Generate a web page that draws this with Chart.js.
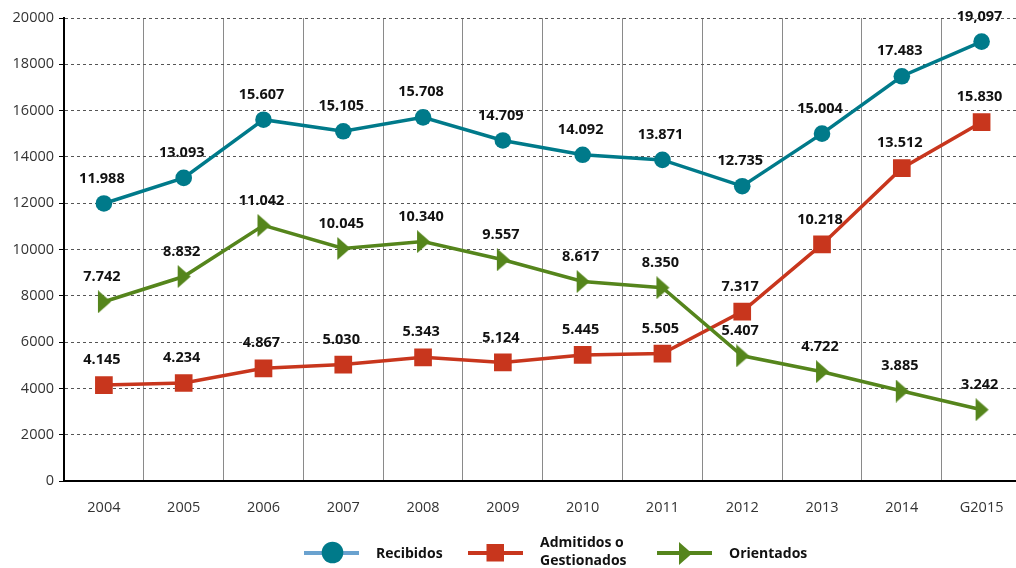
<!DOCTYPE html>
<html>
<head>
<meta charset="utf-8">
<script src="https://cdn.jsdelivr.net/npm/chart.js@4.4.1/dist/chart.umd.min.js"></script>
<style>
  html, body { margin: 0; padding: 0; background: #fff; overflow: hidden; }
  #wrap { position: relative; width: 1034px; height: 568px; }
</style>
</head>
<body>
<div id="wrap"><canvas id="chart"></canvas></div>
<script>
  years = ['2004', '2005', '2006', '2007', '2008', '2009', '2010', '2011', '2012', '2013', '2014', 'G2015']

  // values as plotted (G2015 marks sit a little lower than their labels)
  recibidos = [11988, 13093, 15607, 15105, 15708, 14709, 14092, 13871, 12735, 15004, 17483, 18980]
  admitidos = [4145, 4234, 4867, 5030, 5343, 5124, 5445, 5505, 7317, 10218, 13512, 15500]
  orientados = [7742, 8832, 11042, 10045, 10340, 9557, 8617, 8350, 5407, 4722, 3885, 3080]

  recibidosLabels = ['11.988', '13.093', '15.607', '15.105', '15.708', '14.709', '14.092', '13.871', '12.735', '15.004', '17.483', '19,097']
  admitidosLabels = ['4.145', '4.234', '4.867', '5.030', '5.343', '5.124', '5.445', '5.505', '7.317', '10.218', '13.512', '15.830']
  orientadosLabels = ['7.742', '8.832', '11.042', '10.045', '10.340', '9.557', '8.617', '8.350', '5.407', '4.722', '3.885', '3.242']

  yMax = 20000
  yStep = 2000

  teal = '#007a8a'
  red = '#c8361d'
  green = '#55851c'
  lightBlue = '#6aa2cf'

  Chart.defaults.font.family = "'Open Sans', sans-serif";

  // right-pointing arrow head used as point style
  function arrowHead(w, h) {
    const c = document.createElement('canvas');
    c.width = w + 3;
    c.height = h;
    const x = c.getContext('2d');
    x.fillStyle = green;
    x.beginPath();
    x.moveTo(2, 0);
    x.lineTo(2 + w, h / 2);
    x.lineTo(2, h);
    x.closePath();
    x.fill();
    return c;
  }

  const pointLabels = {
    id: 'pointLabels',
    afterDatasetsDraw: (chart) => {
      const { ctx } = chart;
      ctx.save();
      ctx.font = 'bold 14.5px "Open Sans"';
      ctx.fillStyle = '#111';
      ctx.textAlign = 'center';
      ctx.textBaseline = 'middle';
      chart.data.datasets.forEach((ds, di) => {
        chart.getDatasetMeta(di).data.forEach((pt, j) => {
          ctx.fillText(ds.valueLabels[j], pt.x - 2, pt.y - 25);
        });
      });
      ctx.restore();
    }
  };

  const bottomLegend = {
    id: 'bottomLegend',
    afterDraw: (chart) => {
      const { ctx } = chart;
      ctx.save();
      ctx.lineWidth = 4;
      // Recibidos
      ctx.strokeStyle = lightBlue;
      ctx.beginPath(); ctx.moveTo(304, 553); ctx.lineTo(359, 553); ctx.stroke();
      ctx.fillStyle = teal;
      ctx.beginPath(); ctx.arc(332.5, 552.5, 10.8, 0, Math.PI * 2); ctx.fill();
      // Admitidos
      ctx.strokeStyle = red;
      ctx.beginPath(); ctx.moveTo(468, 553); ctx.lineTo(523, 553); ctx.stroke();
      ctx.fillStyle = red;
      ctx.fillRect(486.5, 544, 17.5, 17.5);
      // Orientados
      ctx.strokeStyle = green;
      ctx.beginPath(); ctx.moveTo(657, 553); ctx.lineTo(712, 553); ctx.stroke();
      ctx.fillStyle = green;
      ctx.beginPath(); ctx.moveTo(679, 542); ctx.lineTo(692, 553.5); ctx.lineTo(679, 565); ctx.closePath(); ctx.fill();

      ctx.fillStyle = '#111';
      ctx.font = 'bold 14px "Open Sans"';
      ctx.textBaseline = 'middle';
      ctx.textAlign = 'left';
      ctx.fillText('Recibidos', 376, 554);
      ctx.fillText('Admitidos o', 540, 543);
      ctx.fillText('Gestionados', 540, 561.5);
      ctx.fillText('Orientados', 729, 554);
      ctx.restore();
    }
  };

  var chart = new Chart('chart', {
    type: 'line',
    data: {
      labels: years,
      datasets: [
        {
          label: 'Recibidos',
          data: recibidos,
          valueLabels: recibidosLabels,
          borderColor: teal,
          backgroundColor: teal,
          borderWidth: 3.5,
          pointStyle: 'circle',
          pointRadius: 8.3,
          pointBorderWidth: 0,
          order: 0
        },
        {
          label: 'Admitidos o Gestionados',
          data: admitidos,
          valueLabels: admitidosLabels,
          borderColor: red,
          backgroundColor: red,
          borderWidth: 3.5,
          pointStyle: 'rect',
          pointRadius: 12.5,
          pointBorderWidth: 0,
          order: 2
        },
        {
          label: 'Orientados',
          data: orientados,
          valueLabels: orientadosLabels,
          borderColor: green,
          backgroundColor: green,
          borderWidth: 3.5,
          pointStyle: arrowHead(13, 23),
          order: 1
        }
      ]
    },
    options: {
      responsive: true,
      maintainAspectRatio: false,
      animation: false,
      devicePixelRatio: 1,
      layout: { padding: { left: 1, top: 18, right: 0, bottom: 47 } },
      plugins: {
        legend: { display: false },
        tooltip: { enabled: false }
      },
      scales: {
        x: {
          offset: true,
          grid: { offset: true, color: '#8a8a8a', lineWidth: 1, drawTicks: false },
          border: { color: '#000', width: 2 },
          ticks: { color: '#333', font: { size: 14.5 }, padding: 18 },
          afterFit: (s) => { s.height = 40; }
        },
        y: {
          min: 0,
          max: yMax,
          grid: { color: '#555', lineWidth: 1, tickLength: 5, tickColor: '#000' },
          border: { color: '#000', width: 2, dash: [3, 3] },
          ticks: {
            stepSize: yStep,
            color: '#333',
            font: { size: 14.5 },
            padding: 5,
            callback: (v) => String(v)
          },
          afterFit: (s) => { s.width = 63; }
        }
      }
    },
    plugins: [pointLabels, bottomLegend]
  });
</script>
</body>
</html>
